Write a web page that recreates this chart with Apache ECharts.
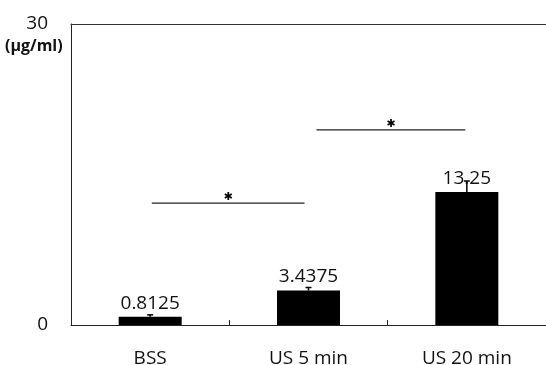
<!DOCTYPE html>
<html><head><meta charset="utf-8">
<script src="https://cdn.jsdelivr.net/npm/echarts@6/dist/echarts.min.js"></script>
<style>html,body{margin:0;padding:0;background:#fff}#c{width:546px;height:365px}</style>
</head><body><div id="c"></div>
<script>
var categories = ['BSS', 'US 5 min', 'US 20 min'];
var values = [0.8125, 3.4375, 13.25];
var errors = [0.2, 0.3, 1.1];
var yTicks = [0, 30];
var unitLabel = '(μg/ml)';
// significance brackets: [from index, to index, level]
var sigFrom = [0.01, 1.05];
var sigTo = [0.975, 1.99];
var sigLevel = [12.15, 19.45];
var sigMark = ['✱', '✱'];

var FONT = '"Open Sans", sans-serif';
var chart = echarts.init(document.getElementById('c'), null, {renderer: 'canvas'});
chart.setOption({
  animation: false,
  backgroundColor: '#fff',
  grid: {left: 71, right: 0, top: 24, bottom: 40, outerBoundsMode: 'none', containLabel: false},
  xAxis: [
    {type: 'category', data: categories, boundaryGap: true,
     axisLine: {onZero: false, lineStyle: {color: '#222', width: 1}},
     axisTick: {show: true, inside: true, length: 5, alignWithLabel: false, lineStyle: {color: '#222'}},
     axisLabel: {color: '#111', fontFamily: FONT, fontSize: 19, margin: 24}},
    {type: 'category', data: categories, position: 'top',
     axisLine: {show: true, onZero: false, lineStyle: {color: '#333', width: 1}},
     axisTick: {show: false}, axisLabel: {show: false}},
    {type: 'value', min: -0.5, max: 2.5, show: false}
  ],
  yAxis: {type: 'value', min: yTicks[0], max: yTicks[yTicks.length - 1], interval: yTicks[1] - yTicks[0],
    axisLine: {show: true, onZero: false, lineStyle: {color: '#222'}},
    axisTick: {show: false}, splitLine: {show: false},
    axisLabel: {color: '#111', fontFamily: FONT, fontSize: 19, margin: 23, padding: [3, 0, 0, 0]}},
  graphic: [{type: 'text', left: 5, top: 38,
    style: {text: unitLabel, fill: '#111', font: 'bold 16px ' + FONT}}],
  series: [
    {type: 'bar', data: values, barWidth: 63, itemStyle: {color: '#000'},
     label: {show: true, position: 'top', distance: 4, color: '#111', fontFamily: FONT, fontSize: 19,
       formatter: function (p) { return String(values[p.dataIndex]); }}},
    {type: 'custom', xAxisIndex: 2, data: values.map(function (v, i) { return [i, v, v + errors[i]]; }),
     z: 5,
     renderItem: function (params, api) {
       var b = api.coord([api.value(0), api.value(1)]);
       var t = api.coord([api.value(0), api.value(2)]);
       return {type: 'group', children: [
         {type: 'line', shape: {x1: b[0], y1: b[1], x2: t[0], y2: t[1]}, style: {stroke: '#000', lineWidth: 1.5}},
         {type: 'line', shape: {x1: t[0] - 3, y1: t[1], x2: t[0] + 3, y2: t[1]}, style: {stroke: '#000', lineWidth: 1.5}}
       ]};
     }},
    {type: 'custom', xAxisIndex: 2, data: sigLevel.map(function (y, k) { return [sigFrom[k], sigTo[k], y]; }),
     renderItem: function (params, api) {
       var a = api.coord([api.value(0), api.value(2)]);
       var b = api.coord([api.value(1), api.value(2)]);
       var mx = (a[0] + b[0]) / 2;
       return {type: 'group', children: [
         {type: 'line', shape: {x1: a[0], y1: a[1], x2: b[0], y2: b[1]}, style: {stroke: '#222', lineWidth: 1.2}},
         {type: 'text', x: mx, y: a[1] - 6, style: {text: sigMark[params.dataIndex], fill: '#000',
           font: 'bold 11px "DejaVu Sans"', align: 'center', verticalAlign: 'middle'}}
       ]};
     }}
  ]
});
</script></body></html>
